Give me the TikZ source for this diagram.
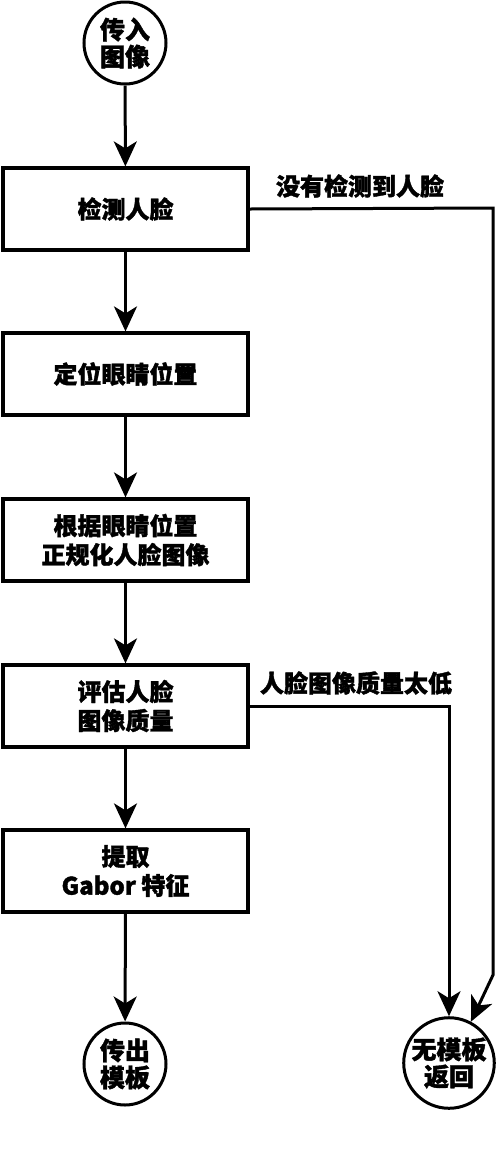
\documentclass[tikz,border=0pt]{standalone}
\usepackage{fontspec}
\newfontfamily\cjk{Noto Sans CJK SC}[BoldFeatures={FakeBold=1.5}]
\usetikzlibrary{arrows.meta}
\begin{document}
\begin{tikzpicture}[x=1pt,y=-1pt,
  stepbox/.style={draw,line width=3.2pt,minimum width=245pt,minimum height=82pt,inner sep=0pt,align=center,font=\cjk\bfseries\fontsize{24}{29}\selectfont},
  endpt/.style={draw,circle,line width=3pt,minimum size=82pt,inner sep=0pt,align=center,font=\cjk\bfseries\fontsize{25}{27}\selectfont},
  lbl/.style={font=\cjk\bfseries\fontsize{24}{27}\selectfont,inner sep=0pt},
  conn/.style={line width=3pt,-{Stealth[length=25pt,width=23pt,inset=7pt]}}]
\useasboundingbox (0,0) rectangle (500,1163);
\node[endpt] (in) at (125,43) {传入\\图像};
\node[stepbox] (b1) at (125.5,209) {检测人脸};
\node[stepbox] (b2) at (125.5,374) {定位眼睛位置};
\node[stepbox] (b3) at (125.5,540) {根据眼睛位置\\正规化人脸图像};
\node[stepbox] (b4) at (125.5,706) {评估人脸\\图像质量};
\node[stepbox] (b5) at (125.5,871) {提取\\Gabor 特征};
\node[endpt] (out) at (125,1064) {传出\\模板};
\node[endpt] (rc) at (449,1063) {无模板\\返回};
\coordinate (c1) at (493,208);
\coordinate (c2) at (493,975);
\node[lbl] (l1) at (360,186) {没有检测到人脸};
\node[lbl] (l2) at (356,683) {人脸图像质量太低};
\draw[conn] (in) -- (b1);
\draw[conn] (b1) -- (b2);
\draw[conn] (b2) -- (b3);
\draw[conn] (b3) -- (b4);
\draw[conn] (b4) -- (b5);
\draw[conn] (b5) -- (out);
\draw[conn] (b1.east) -- (c1) -- (c2) -- (rc.62);
\draw[conn] (b4.east) -| (rc.north);
\end{tikzpicture}
\end{document}
